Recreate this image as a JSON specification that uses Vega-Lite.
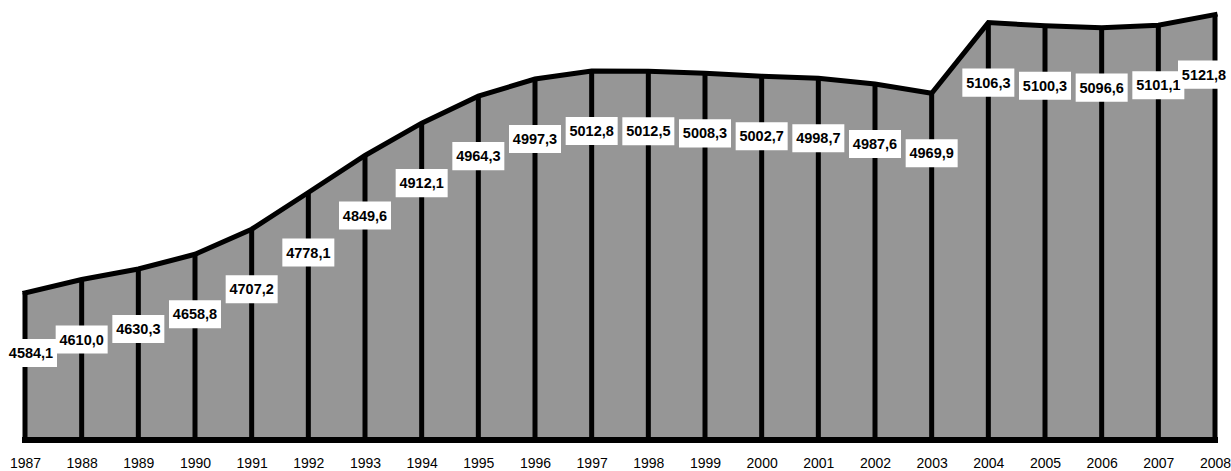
{
  "$schema": "https://vega.github.io/schema/vega-lite/v6.json",
  "width": 1190,
  "height": 440,
  "autosize": {"type": "none"},
  "padding": {"left": 25, "top": 0, "right": 16, "bottom": 31},
  "background": "white",
  "config": {"view": {"stroke": null}, "font": "Liberation Sans"},
  "data": {
    "values": [
      {"year": 1987, "value": 4584.1, "label": "4584,1"},
      {"year": 1988, "value": 4610.0, "label": "4610,0"},
      {"year": 1989, "value": 4630.3, "label": "4630,3"},
      {"year": 1990, "value": 4658.8, "label": "4658,8"},
      {"year": 1991, "value": 4707.2, "label": "4707,2"},
      {"year": 1992, "value": 4778.1, "label": "4778,1"},
      {"year": 1993, "value": 4849.6, "label": "4849,6"},
      {"year": 1994, "value": 4912.1, "label": "4912,1"},
      {"year": 1995, "value": 4964.3, "label": "4964,3"},
      {"year": 1996, "value": 4997.3, "label": "4997,3"},
      {"year": 1997, "value": 5012.8, "label": "5012,8"},
      {"year": 1998, "value": 5012.5, "label": "5012,5"},
      {"year": 1999, "value": 5008.3, "label": "5008,3"},
      {"year": 2000, "value": 5002.7, "label": "5002,7"},
      {"year": 2001, "value": 4998.7, "label": "4998,7"},
      {"year": 2002, "value": 4987.6, "label": "4987,6"},
      {"year": 2003, "value": 4969.9, "label": "4969,9"},
      {"year": 2004, "value": 5106.3, "label": "5106,3"},
      {"year": 2005, "value": 5100.3, "label": "5100,3"},
      {"year": 2006, "value": 5096.6, "label": "5096,6"},
      {"year": 2007, "value": 5101.1, "label": "5101,1"},
      {"year": 2008, "value": 5121.8, "label": "5121,8"}
    ]
  },
  "encoding": {
    "x": {
      "field": "year",
      "type": "quantitative",
      "scale": {"domain": [1987, 2008], "nice": false, "zero": false},
      "axis": {
        "title": null,
        "values": [1987,1988,1989,1990,1991,1992,1993,1994,1995,1996,1997,1998,1999,2000,2001,2002,2003,2004,2005,2006,2007,2008],
        "format": "d",
        "ticks": false,
        "domain": false,
        "grid": false,
        "labelFontSize": 14,
        "labelColor": "black",
        "labelPadding": 16,
        "labelFlush": false,
        "labelOverlap": false
      }
    },
    "y": {
      "field": "value",
      "type": "quantitative",
      "scale": {"domain": [4300, 5150], "nice": false, "zero": false},
      "axis": null
    }
  },
  "layer": [
    {
      "mark": {"type": "area", "color": "#969696", "opacity": 1},
      "encoding": {"y2": {"datum": 4300}}
    },
    {
      "mark": {"type": "rule", "color": "black", "strokeWidth": 5},
      "encoding": {"y2": {"datum": 4300}}
    },
    {
      "mark": {"type": "line", "color": "black", "strokeWidth": 5, "strokeJoin": "miter", "strokeCap": "square"},
      "encoding": {}
    },
    {
      "mark": {"type": "rule", "color": "black", "strokeWidth": 5, "strokeCap": "square"},
      "encoding": {
        "x": {"datum": 1987, "type": "quantitative"},
        "x2": {"datum": 2008},
        "y": {"datum": 4300, "type": "quantitative"}
      }
    },
    {
      "transform": [{"filter": "datum.year > 1987 && datum.year < 2008"}],
      "layer": [
        {
          "mark": {"type": "point", "shape": "M-1,-0.54H1V0.54H-1Z", "size": 2704, "filled": true, "fill": "white", "opacity": 1, "strokeWidth": 0, "yOffset": 60},
          "encoding": {}
        },
        {
          "mark": {"type": "text", "fontWeight": "bold", "fontSize": 14.5, "color": "black", "baseline": "middle", "align": "center", "yOffset": 61},
          "encoding": {"text": {"field": "label"}}
        }
      ]
    },
    {
      "transform": [{"filter": "datum.year == 1987"}],
      "layer": [
        {
          "mark": {"type": "point", "shape": "M-1,-0.54H1V0.54H-1Z", "size": 2704, "filled": true, "fill": "white", "opacity": 1, "strokeWidth": 0, "yOffset": 60, "xOffset": 6},
          "encoding": {}
        },
        {
          "mark": {"type": "text", "fontWeight": "bold", "fontSize": 14.5, "color": "black", "baseline": "middle", "align": "center", "yOffset": 61, "xOffset": 6},
          "encoding": {"text": {"field": "label"}}
        }
      ]
    },
    {
      "transform": [{"filter": "datum.year == 2008"}],
      "layer": [
        {
          "mark": {"type": "point", "shape": "M-1,-0.54H1V0.54H-1Z", "size": 2704, "filled": true, "fill": "white", "opacity": 1, "strokeWidth": 0, "yOffset": 60, "xOffset": -11},
          "encoding": {}
        },
        {
          "mark": {"type": "text", "fontWeight": "bold", "fontSize": 14.5, "color": "black", "baseline": "middle", "align": "center", "yOffset": 61, "xOffset": -11},
          "encoding": {"text": {"field": "label"}}
        }
      ]
    }
  ]
}
